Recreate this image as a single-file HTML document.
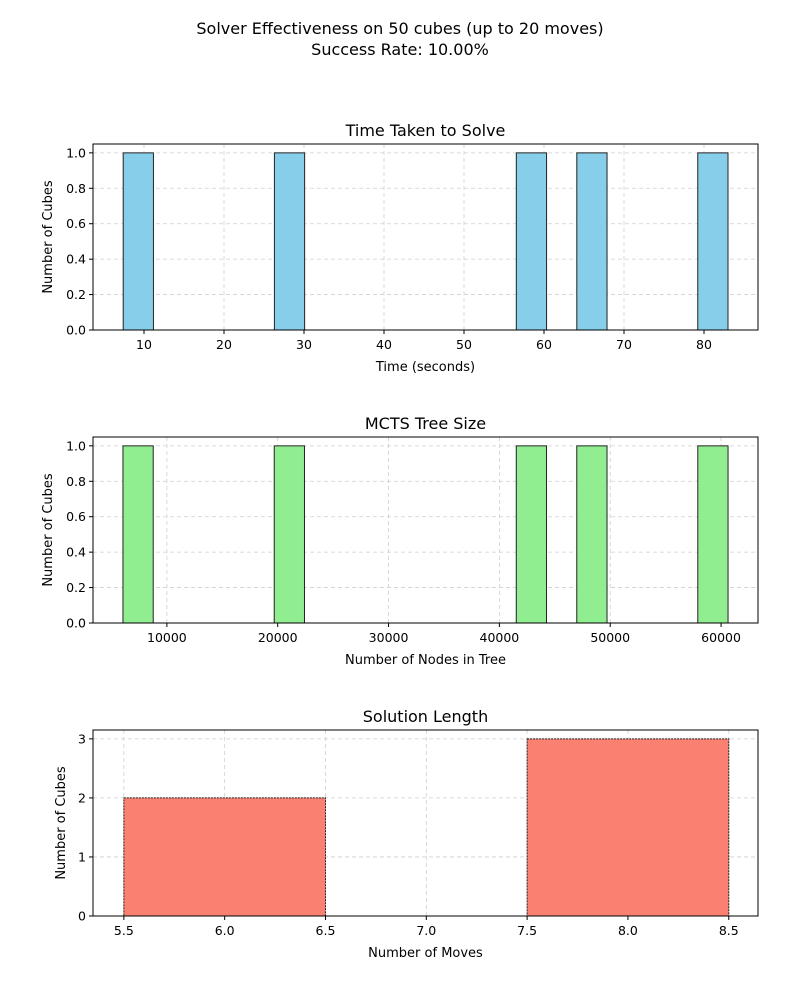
<!DOCTYPE html>
<html><head><meta charset="utf-8"><style>
body{margin:0;background:#fff;font-family:"Liberation Sans","DejaVu Sans",sans-serif;}
svg text{font-family:"DejaVu Sans","Liberation Sans",sans-serif;fill:#000;}
</style></head><body>
<svg id="c" width="800" height="1000" xmlns="http://www.w3.org/2000/svg">
<text x="400" y="34" font-size="16" text-anchor="middle">Solver Effectiveness on 50 cubes (up to 20 moves)</text>
<text x="400" y="55" font-size="16" text-anchor="middle">Success Rate: 10.00%</text>
</svg>
<script>
const timeValues=[7.4,28,58,66,83];
const timeTicks=[10,20,30,40,50,60,70,80];
const nodeValues=[6036,21000,43000,48800,60630];
const nodeTicks=[10000,20000,30000,40000,50000,60000];
const moveCategories=[6,7,8];
const moveCounts=[2,0,3];
const moveTicks=[5.5,6.0,6.5,7.0,7.5,8.0,8.5];
const countTicks1=[0.0,0.2,0.4,0.6,0.8,1.0];
const countTicks3=[0,1,2,3];

const svg=document.getElementById('c');
const NS='http://www.w3.org/2000/svg';
function mk(tag,attrs,parent){const e=document.createElementNS(NS,tag);for(const k in attrs)e.setAttribute(k,attrs[k]);(parent||svg).appendChild(e);return e;}

function panel(o){
  const g=mk('g',{});
  
  
  const L=93,R=758,T=o.top,B=o.top+186;
  const sx=v=>L+(v-o.xmin)/(o.xmax-o.xmin)*(R-L);
  const sy=v=>B-(v/o.ymax)*(B-T);
  o.xticks.forEach(t=>{const l=mk('line',{x1:sx(t),x2:sx(t),y1:T,y2:B,stroke:'#cfcfcf','stroke-dasharray':'4,3','stroke-width':0.8},g);});
  o.yticks.forEach(t=>{const l=mk('line',{x1:L,x2:R,y1:sy(t),y2:sy(t),stroke:'#cfcfcf','stroke-dasharray':'4,3','stroke-width':0.8},g);});
  o.bins.forEach(b=>{if(b.c<=0)return;const r=mk('rect',{x:sx(b.a),y:sy(b.c),width:sx(b.b)-sx(b.a),height:B-sy(b.c),fill:o.color,stroke:'#222','stroke-width':1,'stroke-dasharray':o.dash||'none'},g);});
  const f=mk('rect',{x:L,y:T,width:R-L,height:B-T,fill:'none',stroke:'#000','stroke-width':1},g);
  
  o.xticks.forEach(t=>{mk('line',{x1:sx(t),x2:sx(t),y1:B,y2:B+4,stroke:'#000'},g);const tx=mk('text',{x:sx(t),y:B+19,'font-size':12.5,'text-anchor':'middle'},g);tx.textContent=o.xfmt(t);});
  o.yticks.forEach(t=>{mk('line',{x1:L-4,x2:L,y1:sy(t),y2:sy(t),stroke:'#000'},g);const tx=mk('text',{x:L-7,y:sy(t)+4.5,'font-size':12.5,'text-anchor':'end'},g);tx.textContent=o.yfmt(t);});
  const ti=mk('text',{x:(L+R)/2,y:T-8,'font-size':16,'text-anchor':'middle'},g);ti.textContent=o.title;
  const xl=mk('text',{x:(L+R)/2,y:B+41,'font-size':13,'text-anchor':'middle'},g);xl.textContent=o.xlabel;
  const yl=mk('text',{x:0,y:0,'font-size':13,'text-anchor':'middle',transform:`translate(${o.ylx},${(T+B)/2}) rotate(-90)`},g);yl.textContent='Number of Cubes';
}
function hist(vals,n){const mn=Math.min(...vals),mx=Math.max(...vals),w=(mx-mn)/n;const bins=[];for(let i=0;i<n;i++)bins.push({a:mn+i*w,b:mn+(i+1)*w,c:0});vals.forEach(v=>{let i=Math.floor((v-mn)/w);if(i>=n)i=n-1;bins[i].c++;});return bins;}

panel({name:'time-histogram',top:144,xmin:3.625,xmax:86.75,ymax:1.05,xticks:timeTicks,yticks:countTicks1,bins:hist(timeValues,20),color:'#87ceeb',title:'Time Taken to Solve',xlabel:'Time (seconds)',ylx:52,xfmt:t=>String(t),yfmt:t=>t.toFixed(1)});
panel({name:'tree-size-histogram',top:437,xmin:3333,xmax:63333,ymax:1.05,xticks:nodeTicks,yticks:countTicks1,bins:hist(nodeValues,20),color:'#90ee90',title:'MCTS Tree Size',xlabel:'Number of Nodes in Tree',ylx:52,xfmt:t=>String(t),yfmt:t=>t.toFixed(1)});
panel({name:'solution-length-histogram',top:730,xmin:5.347,xmax:8.645,ymax:3.15,xticks:moveTicks,yticks:countTicks3,bins:moveCategories.map((c,i)=>({a:c-0.5,b:c+0.5,c:moveCounts[i]})),color:'#fa8072',dash:'2,1',title:'Solution Length',xlabel:'Number of Moves',ylx:65,xfmt:t=>t.toFixed(1),yfmt:t=>String(t)});
</script>
</body></html>
